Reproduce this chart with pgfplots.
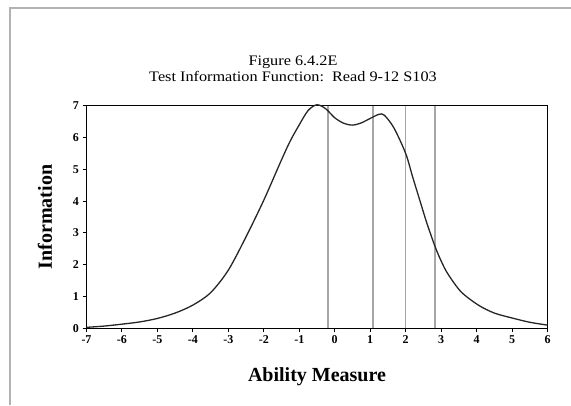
\documentclass[border=0pt]{standalone}
\usepackage{pgfplots}
\pgfplotsset{compat=1.18}
\usepackage{fontspec}
\setmainfont{Liberation Serif}
\newfontfamily\widefont[FakeStretch=1.12]{Liberation Serif}
\begin{document}
\begin{tikzpicture}[x=1pt,y=1pt]
\path[use as bounding box] (0pt,0pt) rectangle (571pt,405pt);
\draw[gray!60, line width=1.2pt] (10pt,0pt) -- (10pt,397pt) -- (571pt,397pt);
\node[align=center, font=\widefont\fontsize{14.5}{16}\selectfont, inner sep=0pt] at (293pt,336pt) {Figure 6.4.2E\\Test Information Function:\ \ Read 9-12 S103};
\begin{axis}[
  at={(86.5pt,76.7pt)}, anchor=south west,
  scale only axis, width=461pt, height=222.6pt,
  xmin=-7, xmax=6, ymin=0, ymax=7,
  xtick={-7,...,6}, ytick={0,...,7},
  tick align=outside, xtick pos=left, ytick pos=left,
  major tick length=4pt,
  axis line style={line width=1pt},
  every tick/.style={black, line width=1pt},
  ticklabel style={font=\fontsize{12}{14}\selectfont\bfseries},
  /pgf/number format/assume math mode=true,
  xlabel={Ability Measure}, ylabel={Information},
  xlabel style={font=\fontsize{20}{22}\selectfont\bfseries, at={(axis description cs:0.5,-0.2156)}, anchor=center},
  ylabel style={font=\fontsize{20}{22}\selectfont\bfseries, at={(axis description cs:-0.09,0.5)}, anchor=center},
  clip=false,
]
\addplot[gray!70, line width=1.6pt] coordinates {(-0.19,0) (-0.19,7)};
\addplot[gray!70, line width=1.6pt] coordinates {(1.08,0) (1.08,7)};
\addplot[gray!70, line width=1.6pt] coordinates {(2.0,0) (2.0,7)};
\addplot[gray!70, line width=1.6pt] coordinates {(2.83,0) (2.83,7)};
\addplot[black!85, line width=1.3pt, smooth] coordinates {
(-7,0.03) (-6.5,0.07) (-6,0.13) (-5.5,0.2) (-5,0.31) (-4.5,0.48) (-4,0.73)
(-3.5,1.12) (-3,1.83) (-2.5,2.88) (-2,4.03) (-1.5,5.3) (-1.25,5.9) (-1,6.4)
(-0.75,6.85) (-0.5,7.03) (-0.25,6.9) (0,6.62) (0.25,6.45) (0.5,6.39) (0.75,6.46)
(1,6.6) (1.25,6.73) (1.4,6.7) (1.67,6.3) (2,5.5) (2.2,4.75) (2.42,3.95)
(2.6,3.3) (2.83,2.57) (3.0,2.12) (3.18,1.73) (3.56,1.15) (4.05,0.73) (4.5,0.48)
(5.05,0.31) (5.5,0.19) (6,0.1)};
\end{axis}
\end{tikzpicture}
\end{document}
